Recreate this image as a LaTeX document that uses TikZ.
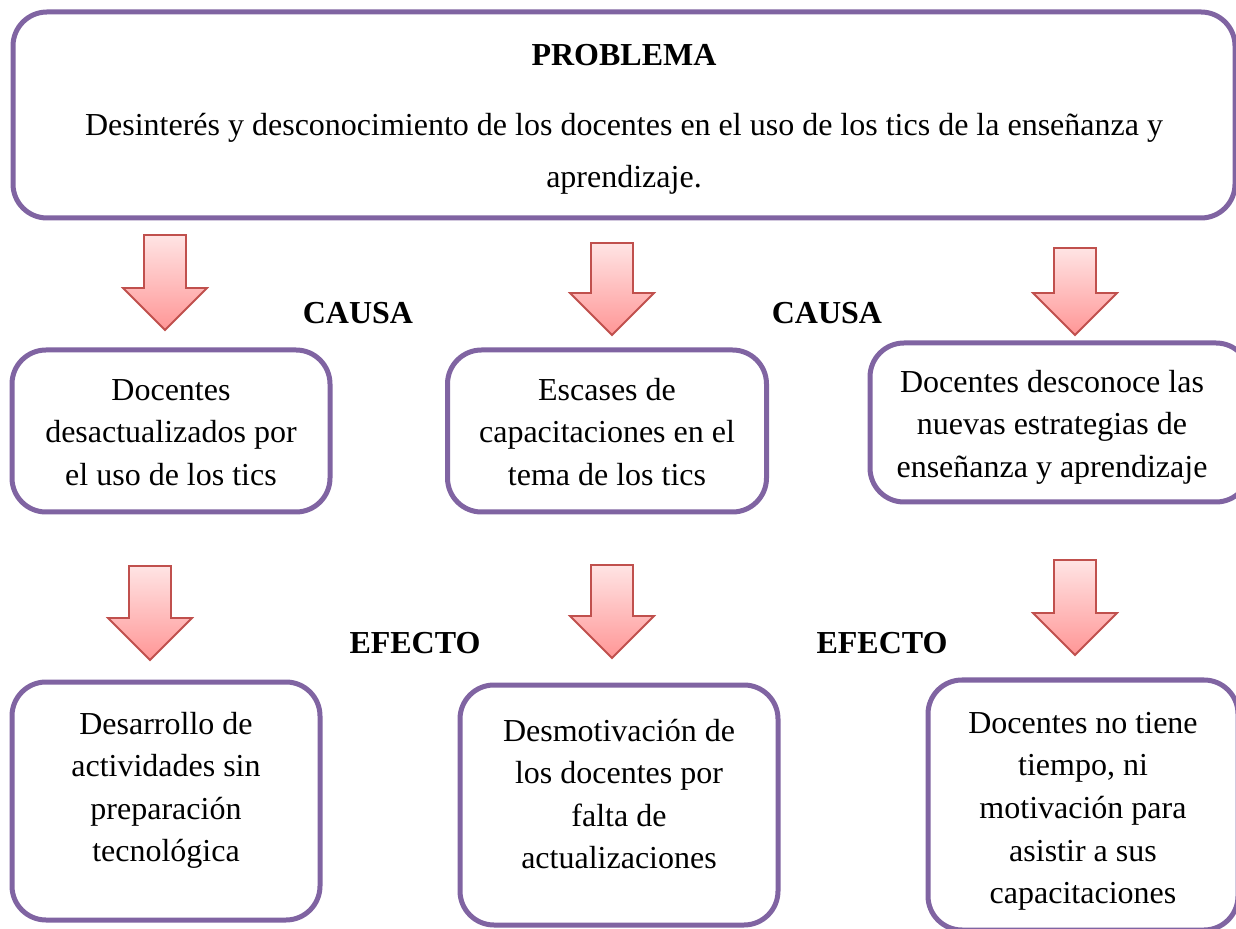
\documentclass[tikz,border=0pt]{standalone}
\usepackage{fontspec}
\setmainfont{Liberation Serif}
\usepackage{tikz}
\definecolor{marco}{RGB}{128,100,162}
\definecolor{flechaborde}{RGB}{192,80,77}
\definecolor{flechaarriba}{RGB}{255,228,228}
\definecolor{flechaabajo}{RGB}{255,150,150}

% flecha de bloque hacia abajo: centro x, y arriba, y punta
\newcommand{\flechabaja}[3]{%
  \draw[flechaborde,line width=0.9pt,top color=flechaarriba,bottom color=flechaabajo,line join=miter]
    (#1-21,#2) -- (#1+21,#2) -- (#1+21,#3-42) -- (#1+42,#3-42) -- (#1,#3)
    -- (#1-42,#3-42) -- (#1-21,#3-42) -- cycle;}
% alto de la primera linea y fondo de la ultima
\newcommand{\arr}[1]{\rule{0pt}{#1pt}}
\newcommand{\aba}[1]{\rule[-#1pt]{0pt}{#1pt}}

\begin{document}
\begin{tikzpicture}[x=0.5pt,y=-0.5pt,
  caja/.style={draw=marco,line width=2.5pt,rounded corners=17pt,align=center,
    font=\fontsize{16}{21.3}\selectfont,inner sep=0pt},
  rotulo/.style={font=\fontsize{16}{18}\selectfont\bfseries}]
\useasboundingbox (0,0) rectangle (1236,929);

% problema
\node[caja,minimum width=611pt,minimum height=103pt,font=\fontsize{16}{26}\selectfont] (problema) at (624,115)
  {\arr{18}\textbf{PROBLEMA}\\[9pt]Desinterés y desconocimiento de los docentes en el uso de los tics de la enseñanza y\\aprendizaje.\aba{6}};

% flechas de causa
\flechabaja{165}{235}{330}
\flechabaja{612}{243}{335}
\flechabaja{1075}{248}{335}
\node[rotulo] (causaA) at (358,313) {CAUSA};
\node[rotulo] (causaB) at (827,313) {CAUSA};

% causas
\node[caja,minimum width=159pt,minimum height=81pt] (causa1) at (171,431)
  {\arr{18}Docentes\\desactualizados por\\el uso de los tics\aba{6}};
\node[caja,minimum width=159.5pt,minimum height=81pt] (causa2) at (607,431)
  {\arr{18}Escases de\\capacitaciones en el\\tema de los tics\aba{6}};
\node[caja,minimum width=190pt,minimum height=79.5pt] (causa3) at (1060,422.5)
  {\hspace*{-8pt}\arr{18.5}Docentes desconoce las\\\hspace*{-8pt}nuevas estrategias de\\\hspace*{-8pt}enseñanza y aprendizaje\aba{6}};

% flechas de efecto
\flechabaja{150}{566}{660}
\flechabaja{612}{565}{658}
\flechabaja{1075}{560}{655}
\node[rotulo] (efectoA) at (415,643) {EFECTO};
\node[rotulo] (efectoB) at (882,643) {EFECTO};

% efectos
\node[caja,minimum width=154pt,minimum height=119pt] (efecto1) at (166,801)
  {\arr{16}Desarrollo de\\actividades sin\\preparación\\tecnológica\aba{19}};
\node[caja,minimum width=159pt,minimum height=120pt] (efecto2) at (619,805)
  {\arr{17}Desmotivación de\\los docentes por\\falta de\\actualizaciones\aba{17}};
\node[caja,minimum width=155pt,minimum height=125pt] (efecto3) at (1083,805)
  {\arr{19.5}Docentes no tiene\\tiempo, ni\\motivación para\\asistir a sus\\capacitaciones\aba{6}};
\end{tikzpicture}
\end{document}
